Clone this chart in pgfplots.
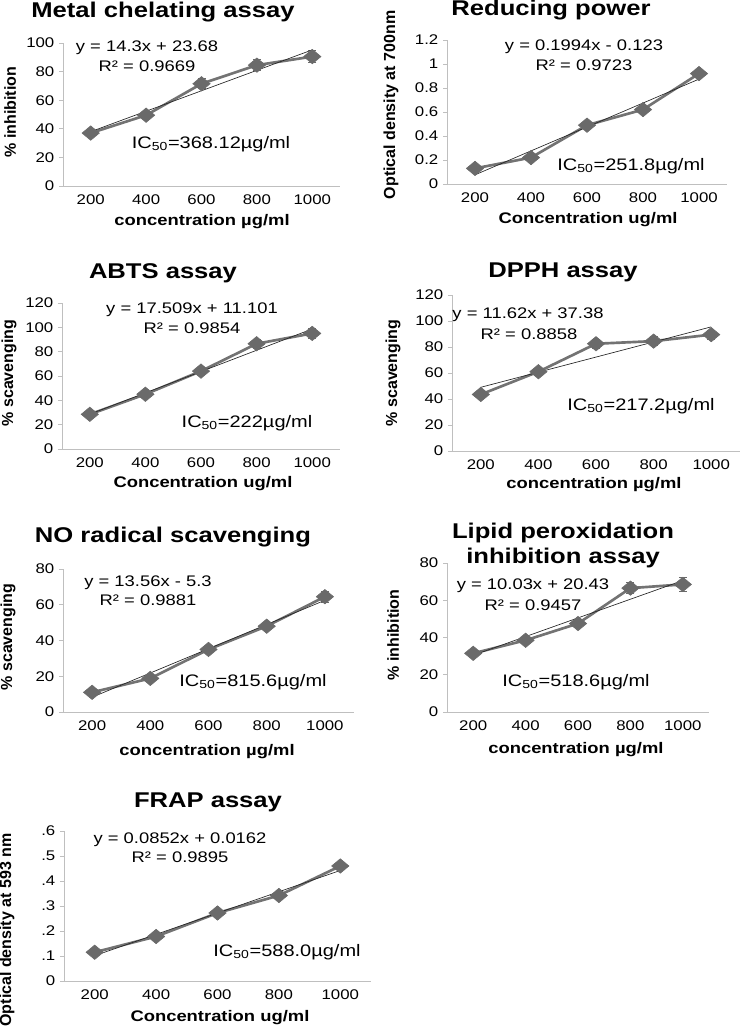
\documentclass[border=0pt]{standalone}
\usepackage{fontspec}
\setmainfont{Liberation Sans}[FakeStretch=1.2]
\newfontfamily\ylabfont{Liberation Sans}
\usepackage{pgfplots}
\pgfplotsset{compat=1.18}
\definecolor{dataline}{HTML}{737373}
\definecolor{markgray}{HTML}{6A6A6A}
\definecolor{axisgray}{HTML}{BFBFBF}
\pgfplotsset{
  panel/.style={
    scale only axis, anchor=south west,
    xmin=0.5, xmax=5.5, xtick={1,2,3,4,5}, xticklabels={200,400,600,800,1000},
    axis x line*=bottom, axis y line*=left,
    xtick pos=bottom, ytick pos=left,
    axis line style={draw=axisgray, line width=0.7pt},
    x tick style={draw=none}, y tick style={draw=axisgray, line width=0.7pt},
    tick align=outside, major tick length=3pt,
    tick label style={font=\fontsize{10.5}{12}\selectfont, text=black},
    /pgf/number format/assume math mode=true,
    xlabel style={font=\fontsize{11.5}{13}\selectfont\bfseries, anchor=center},
    ylabel style={font=\fontsize{12}{14}\ylabfont\bfseries, anchor=center},
    clip=false,
  },
  data/.style={color=dataline, line width=2pt, mark=square*, mark size=3.8pt,
    mark options={xscale=1.2, rotate=45, fill=markgray, draw=markgray, line width=0.5pt},
    error bars/.cd, y dir=both, y explicit,
    error bar style={line width=0.6pt, draw=markgray},
    error mark options={rotate=90, mark size=3pt, line width=0.6pt, draw=markgray}},
  trend/.style={black!85, line width=0.5pt, no marks},
}
\newcommand{\eqf}{\fontsize{11.5}{13}\selectfont}
\newcommand{\icf}{\fontsize{12.5}{15}\selectfont}
\newcommand{\ttf}{\fontsize{16}{18.75}\selectfont\bfseries}
\begin{document}
\begin{tikzpicture}
\useasboundingbox (0,0) rectangle (556.5pt,772.5pt);

% Panel 1: Metal chelating
\begin{axis}[panel, at={(47.25pt,633pt)}, width=207.75pt, height=107.25pt,
  ymin=0, ymax=100, ytick={0,20,40,60,80,100},
  xlabel={concentration µg/ml}, ylabel={\% inhibition},
  xlabel style={at={(axis description cs:0.502,-0.252)}},
  ylabel style={at={(axis description cs:-0.191,0.517)}}]
\addplot[data] coordinates {(1,37) +- (0,2) (2,49.5) +- (0,2.5) (3,71.5) +- (0,3.5) (4,84.5) +- (0,4) (5,90.5) +- (0,4)};
\addplot[trend] coordinates {(1,37.98) (5,95.18)};
\end{axis}
\node[font=\ttf] at (122.25pt,763.5pt) {Metal chelating assay};
\node[font=\eqf] at (110.25pt,736.5pt) {y = 14.3x + 23.68};
\node[font=\eqf] at (110.25pt,723pt) {R² = 0.9669};
\node[font=\icf] at (158.25pt,664.5pt) {IC\textsubscript{50}=368.12µg/ml};

% Panel 2: Reducing power
\begin{axis}[panel, at={(335.25pt,634.5pt)}, width=210pt, height=108pt,
  ymin=0, ymax=1.2, ytick={0,0.2,0.4,0.6,0.8,1,1.2}, yticklabels={0,0.2,0.4,0.6,0.8,1,1.2},
  xlabel={Concentration ug/ml}, ylabel={Optical density at 700nm},
  xlabel style={at={(axis description cs:0.504,-0.25)}},
  ylabel style={at={(axis description cs:-0.2,0.549)}}]
\addplot[data] coordinates {(1,0.13) +- (0,0.02) (2,0.22) +- (0,0.02) (3,0.49) +- (0,0.02) (4,0.62) +- (0,0.03) (5,0.92) +- (0,0.03)};
\addplot[trend] coordinates {(1,0.0764) (5,0.874)};
\end{axis}
\node[font=\ttf] at (413.25pt,765pt) {Reducing power};
\node[font=\eqf] at (438pt,737.25pt) {y = 0.1994x - 0.123};
\node[font=\eqf] at (438pt,723.75pt) {R² = 0.9723};
\node[font=\icf] at (473.25pt,648pt) {IC\textsubscript{50}=251.8µg/ml};

% Panel 3: ABTS
\begin{axis}[panel, at={(46.5pt,435.75pt)}, width=208.5pt, height=109.5pt,
  ymin=0, ymax=120, ytick={0,20,40,60,80,100,120},
  xlabel={Concentration ug/ml}, ylabel={\% scavenging},
  xlabel style={at={(axis description cs:0.507,-0.24)}},
  ylabel style={at={(axis description cs:-0.191,0.52)}}]
\addplot[data] coordinates {(1,28.5) +- (0,2) (2,45) +- (0,2) (3,64) +- (0,2.5) (4,86.5) +- (0,3.5) (5,95) +- (0,4)};
\addplot[trend] coordinates {(1,28.61) (5,98.646)};
\end{axis}
\node[font=\ttf] at (122.25pt,567.75pt) {ABTS assay};
\node[font=\eqf] at (144pt,540pt) {y = 17.509x + 11.101};
\node[font=\eqf] at (144pt,526.5pt) {R² = 0.9854};
\node[font=\icf] at (185.25pt,455.25pt) {IC\textsubscript{50}=222µg/ml};

% Panel 4: DPPH
\begin{axis}[panel, at={(339pt,434.25pt)}, width=216pt, height=117pt,
  ymin=0, ymax=120, ytick={0,20,40,60,80,100,120},
  xlabel={concentration µg/ml}, ylabel={\% scavenging},
  xlabel style={at={(axis description cs:0.493,-0.218)}},
  ylabel style={at={(axis description cs:-0.205,0.5)}}]
\addplot[data] coordinates {(1,43.5) +- (0,2) (2,61) +- (0,2.5) (3,82.5) +- (0,3.5) (4,84.5) +- (0,3.5) (5,89.5) +- (0,3.5)};
\addplot[trend] coordinates {(1,49.0) (5,95.48)};
\end{axis}
\node[font=\ttf] at (422.25pt,568.5pt) {DPPH assay};
\node[font=\eqf] at (396pt,536.25pt) {y = 11.62x + 37.38};
\node[font=\eqf] at (396.75pt,522pt) {R² = 0.8858};
\node[font=\icf] at (480.75pt,468pt) {IC\textsubscript{50}=217.2µg/ml};

% Panel 5: NO radical scavenging
\begin{axis}[panel, at={(47.25pt,238.5pt)}, width=218.25pt, height=107.25pt,
  ymin=0, ymax=80, ytick={0,20,40,60,80},
  xlabel={concentration µg/ml}, ylabel={\% scavenging},
  xlabel style={at={(axis description cs:0.495,-0.28)}},
  ylabel style={at={(axis description cs:-0.189,0.524)}}]
\addplot[data] coordinates {(1,11) +- (0,1.5) (2,18.8) +- (0,1.5) (3,35) +- (0,1.5) (4,48) +- (0,2) (5,64.5) +- (0,3)};
\addplot[trend] coordinates {(1,8.26) (5,62.5)};
\end{axis}
\node[font=\ttf] at (129.75pt,369.75pt) {NO radical scavenging};
\node[font=\eqf] at (111pt,335.25pt) {y = 13.56x - 5.3};
\node[font=\eqf] at (111pt,322.5pt) {R² = 0.9881};
\node[font=\icf] at (189.75pt,261pt) {IC\textsubscript{50}=815.6µg/ml};

% Panel 6: Lipid peroxidation
\begin{axis}[panel, at={(335.25pt,238.5pt)}, width=196.5pt, height=111.75pt,
  ymin=0, ymax=80, ytick={0,20,40,60,80},
  xlabel={concentration µg/ml}, ylabel={\% inhibition},
  xlabel style={at={(axis description cs:0.492,-0.255)}},
  ylabel style={at={(axis description cs:-0.206,0.517)}}]
\addplot[data] coordinates {(1,31.5) +- (0,1.5) (2,38.5) +- (0,1.5) (3,47.5) +- (0,2) (4,66.5) +- (0,3) (5,68.5) +- (0,3.5)};
\addplot[trend] coordinates {(1,30.46) (5,70.58)};
\end{axis}
\node[font=\ttf, align=center] at (422.25pt,363.4pt) {Lipid peroxidation\\inhibition assay};
\node[font=\eqf] at (399.75pt,333pt) {y = 10.03x + 20.43};
\node[font=\eqf] at (399.75pt,318.75pt) {R² = 0.9457};
\node[font=\icf] at (432pt,261pt) {IC\textsubscript{50}=518.6µg/ml};

% Panel 7: FRAP
\begin{axis}[panel, at={(48pt,36.75pt)}, width=230.25pt, height=112.5pt,
  ymin=0, ymax=0.6, ytick={0,0.1,0.2,0.3,0.4,0.5,0.6}, yticklabels={0,.1,.2,.3,.4,.5,.6},
  xlabel={Concentration ug/ml}, ylabel={Optical density at 593 nm},
  xlabel style={at={(axis description cs:0.508,-0.247)}},
  ylabel style={at={(axis description cs:-0.186,0.34)}}]
\addplot[data] coordinates {(1,0.115) +- (0,0.005) (2,0.178) +- (0,0.008) (3,0.272) +- (0,0.01) (4,0.342) +- (0,0.01) (5,0.46) +- (0,0.015)};
\addplot[trend] coordinates {(1,0.1014) (5,0.4422)};
\end{axis}
\node[font=\ttf] at (156pt,171pt) {FRAP assay};
\node[font=\eqf] at (135pt,142.5pt) {y = 0.0852x + 0.0162};
\node[font=\eqf] at (135pt,129.75pt) {R² = 0.9895};
\node[font=\icf] at (215.25pt,58.5pt) {IC\textsubscript{50}=588.0µg/ml};
\end{tikzpicture}
\end{document}
